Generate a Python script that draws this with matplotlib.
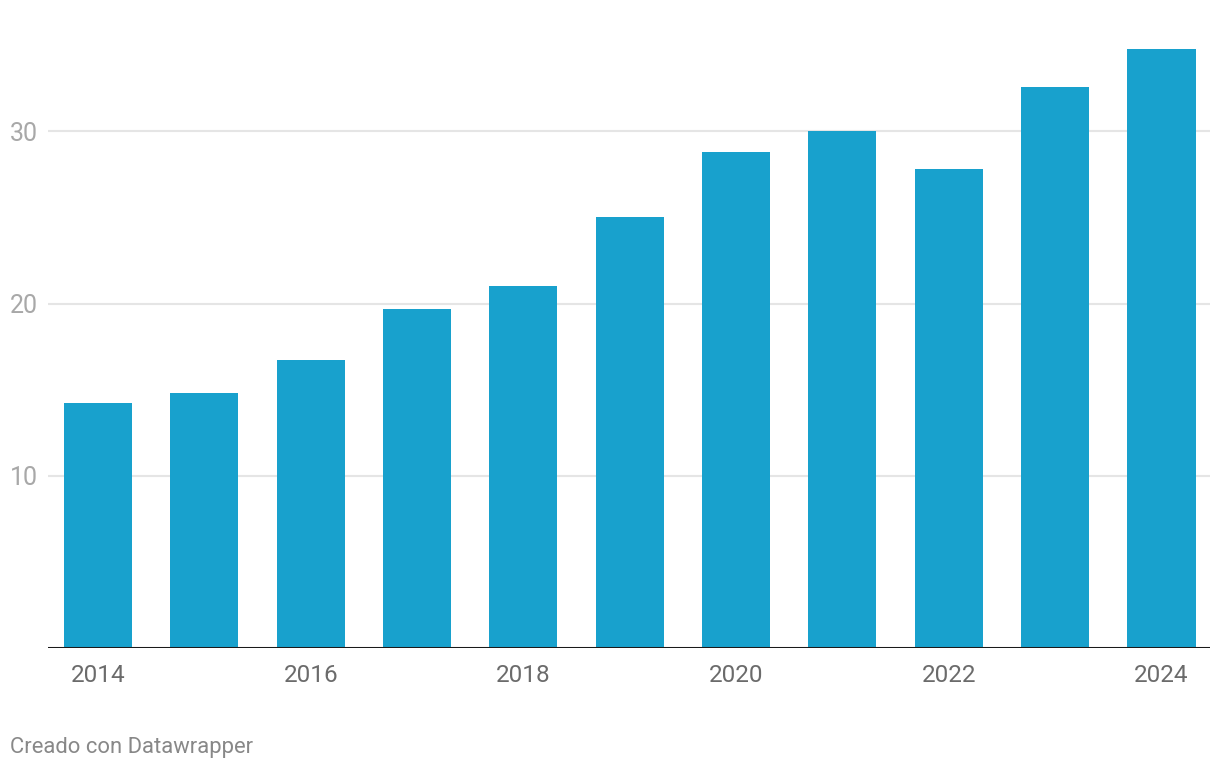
import matplotlib
matplotlib.use("Agg")
import matplotlib.pyplot as plt

plt.rcParams['font.family'] = ['Roboto', 'DejaVu Sans']

years = [2014, 2015, 2016, 2017, 2018, 2019, 2020, 2021, 2022, 2023, 2024]
values = [14.2, 14.8, 16.7, 19.7, 21.0, 25.0, 28.8, 30.0, 27.8, 32.6, 34.8]
yticks = [10, 20, 30]
xlabel_years = [2014, 2016, 2018, 2020, 2022, 2024]

W, H = 1220, 770
fig = plt.figure(figsize=(W / 100, H / 100), dpi=100)
# axes spans pixel x 48..1210, y 28..648
ax = fig.add_axes([48 / W, (H - 648) / H, (1210 - 48) / W, (648 - 28) / H])

pos = list(range(len(years)))
ax.bar(pos, values, width=0.64, color='#18a1cd', zorder=2)

ax.set_xlim(-0.47, 10.456)
ax.set_ylim(0, 36)

for v in yticks:
    ax.axhline(v, color='#e5e5e5', linewidth=1.5, zorder=1)
ax.axhline(0, color='#1a1a1a', linewidth=2.2, zorder=3)

ax.set_yticks(yticks)
ax.set_yticklabels([str(v) for v in yticks], fontsize=18, color='#a8a8a8')
ax.tick_params(axis='y', length=0, pad=7)

ax.set_xticks([years.index(y) for y in xlabel_years])
ax.set_xticklabels([str(y) for y in xlabel_years], fontsize=17.5, color='#6b6b6b')
ax.tick_params(axis='x', length=0, pad=11.5)

for s in ax.spines.values():
    s.set_visible(False)

fig.text(10 / W, 1 - 748 / H, "Creado con Datawrapper", fontsize=15.8,
         color='#888888', ha='left', va='center')

fig.savefig("out.png", dpi=100)
